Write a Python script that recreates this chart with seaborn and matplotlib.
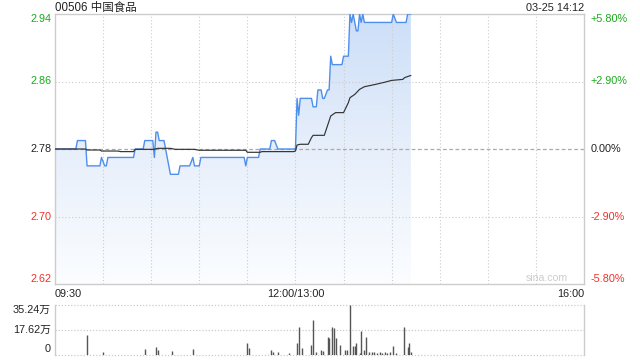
import numpy as np
import pandas as pd
import matplotlib
matplotlib.use("Agg")
import matplotlib.pyplot as plt
import seaborn as sns

# ---------------- data ----------------
title = "00506 中国食品"
stamp = "03-25 14:12"
prev_close = 2.78
price_ticks = [2.62, 2.70, 2.78, 2.86, 2.94]
price_labels = ["2.62", "2.70", "2.78", "2.86", "2.94"]
pct_labels = ["-5.80%", "-2.90%", "0.00%", "+2.90%", "+5.80%"]
x_tick_pos = [0, 150, 330]
x_tick_labels = ["09:30", "12:00/13:00", "16:00"]
vol_ticks = [0, 17.62, 35.24]
vol_labels = ["0", "17.62万", "35.24万"]

# trading minutes since 09:30 (lunch break removed)
blue_t = [0, 13, 14, 19, 20, 28, 29, 31, 32, 33, 49, 50, 55, 56, 61, 62, 63, 64, 65, 68,
          72, 77, 78, 84, 86, 87, 90, 91, 118, 119, 120, 127, 128, 134, 135, 137, 139, 150, 151, 152,
          153, 160, 161, 163, 164, 166, 167, 168, 170, 171, 172, 173, 179, 180, 183, 184, 185, 186, 188, 189,
          190, 191, 192, 193, 210, 211, 213, 219, 220, 222]
blue_p = [2.78, 2.78, 2.79, 2.79, 2.76, 2.76, 2.77, 2.76, 2.76, 2.77, 2.77, 2.78, 2.78, 2.79, 2.79, 2.77, 2.80, 2.80, 2.79, 2.79,
          2.75, 2.75, 2.76, 2.76, 2.77, 2.76, 2.76, 2.77, 2.77, 2.76, 2.77, 2.77, 2.78, 2.78, 2.79, 2.79, 2.78, 2.78, 2.84, 2.82,
          2.84, 2.84, 2.83, 2.83, 2.85, 2.85, 2.84, 2.84, 2.85, 2.85, 2.89, 2.88, 2.88, 2.89, 2.89, 2.94, 2.93, 2.94, 2.92, 2.92,
          2.94, 2.93, 2.94, 2.93, 2.93, 2.94, 2.93, 2.93, 2.94, 2.94]

avg_t = [0, 19, 20, 28, 29, 39, 41, 49, 50, 62, 64, 72, 75, 87, 90, 119, 120, 128, 129, 149,
         150, 151, 153, 158, 160, 161, 168, 172, 175, 180, 183, 184, 187, 190, 193, 200, 206, 210, 217, 218, 222]
avg_p = [2.7800, 2.7800, 2.7788, 2.7788, 2.7776, 2.7776, 2.7769, 2.7769, 2.7796, 2.7796,
         2.7808, 2.7808, 2.7796, 2.7796, 2.7785, 2.7785, 2.7761, 2.7761, 2.7769, 2.7769,
         2.7776, 2.7847, 2.7856, 2.7856, 2.7935, 2.7962, 2.7962, 2.8191, 2.8231, 2.8231,
         2.8349, 2.8408, 2.8447, 2.8507, 2.8538, 2.8566, 2.8593, 2.8613, 2.8625, 2.8645, 2.8672]

vol_t = [20, 30, 56, 63, 64, 73, 86, 120, 121, 135, 136, 139, 146, 151, 152, 154, 160, 161, 163, 166,
         167, 170, 171, 173, 174, 175, 178, 181, 182, 184, 186, 187, 188, 190, 191, 193, 194, 196, 198, 199,
         201, 203, 204, 206, 207, 209, 211, 213, 218, 220, 221, 222]
vol_v = [14.1, 2.3, 4.2, 5.6, 3.8, 2.8, 4.2, 8.5, 5.2, 3.5, 2.0, 2.3, 1.5, 8.2, 19.5, 5.2, 7.0, 24.7, 2.0, 3.5,
         2.8, 12.7, 12.2, 19.7, 19.3, 12.2, 7.0, 3.5, 3.5, 35.24, 6.3, 6.3, 8.2, 1.5, 16.9, 3.5, 12.7, 2.0, 2.3, 2.3,
         1.5, 2.3, 1.5, 2.0, 1.5, 2.0, 6.3, 1.5, 19.7, 5.9, 8.2, 2.0]

# ---------------- style ----------------
sns.set_style("white")
plt.rcParams["font.family"] = ["Liberation Sans", "Noto Sans CJK SC", "DejaVu Sans"]

GREEN = "#1aaa1a"
RED = "#f0312a"
DARK = "#222222"
GRID = "#cccccc"
BLUE = "#4f8fec"

fig = plt.figure(figsize=(6.4, 3.6), dpi=100)
ax = fig.add_axes([55 / 640, 1 - 284 / 360, 529 / 640, 270 / 360])
axv = fig.add_axes([55 / 640, 1 - 355 / 360, 529 / 640, 50 / 360])

XMIN, XMAX = 0, 330
YMIN, YMAX = 2.62, 2.94

price_df = pd.DataFrame({"t": blue_t, "p": blue_p})
avg_df = pd.DataFrame({"t": avg_t, "p": avg_p})

# gradient fill under the price line
poly = ax.fill_between(price_df["t"], price_df["p"], YMIN, color="none", lw=0)
grad_stops = np.array([[0.985, 0.992, 1.0], [0.905, 0.937, 0.984], [0.80, 0.872, 0.972]])
yy = np.linspace(0, 1, 256)
r = np.interp(yy, [0, 0.5, 1], grad_stops[:, 0])
g = np.interp(yy, [0, 0.5, 1], grad_stops[:, 1])
b = np.interp(yy, [0, 0.5, 1], grad_stops[:, 2])
img = np.stack([r, g, b], axis=-1)[:, None, :]
im = ax.imshow(img, extent=[XMIN, XMAX, YMIN, YMAX], origin="lower", aspect="auto", zorder=0.5,
               interpolation="bilinear")
im.set_clip_path(poly.get_paths()[0], transform=ax.transData)

# grid
for xv in range(30, 330, 30):
    ax.axvline(xv, color=GRID, lw=0.8, ls=(0, (1, 2)), zorder=1)
for yv in [2.70, 2.86]:
    ax.axhline(yv, color=GRID, lw=0.8, ls=(0, (1, 2)), zorder=1)
ax.axhline(prev_close, color="#aaaaaa", lw=0.9, ls=(0, (3, 2)), zorder=1)

sns.lineplot(data=price_df, x="t", y="p", ax=ax, color=BLUE, lw=1.0, estimator=None, sort=False, zorder=3)
sns.lineplot(data=avg_df, x="t", y="p", ax=ax, color="#333333", lw=0.85, estimator=None, sort=False, zorder=4)

ax.set_xlim(XMIN, XMAX)
ax.set_ylim(YMIN, YMAX)
ax.set_xticks([])
ax.set_yticks([])
ax.set_xlabel("")
ax.set_ylabel("")
for s in ax.spines.values():
    s.set_color(GRID)
    s.set_linewidth(1.0)

# left price labels and right percentage labels
label_colors = [RED, RED, DARK, GREEN, GREEN]
for val, lab, pl, col in zip(price_ticks, price_labels, pct_labels, label_colors):
    va = "center"
    if val == YMAX:
        va = "top"
    elif val == YMIN:
        va = "bottom"
    ax.text(-0.006, val, lab, transform=ax.get_yaxis_transform(), ha="right", va=va,
            fontsize=7.8, color=col)
    ax.text(1.012, val, pl, transform=ax.get_yaxis_transform(), ha="left", va=va,
            fontsize=7.8, color=col)

# x labels
for xv, lab in zip(x_tick_pos, x_tick_labels):
    ha = "left" if xv == XMIN else ("right" if xv == XMAX else "center")
    ax.text(xv, -0.02, lab, transform=ax.get_xaxis_transform(), ha=ha, va="top", fontsize=7.8, color=DARK)

fig.text(55 / 640, 1 - 7.5 / 360, title, ha="left", va="center", fontsize=8.3, color=DARK)
fig.text(584 / 640, 1 - 8 / 360, stamp, ha="right", va="center", fontsize=7.8, color=DARK)
ax.text(0.97, 0.005, "sina.com", transform=ax.transAxes, ha="right", va="bottom", fontsize=7.6, color="#cccccc")

# volume panel
axv.vlines(vol_t, 0, vol_v, color="#555555", lw=1.0)
axv.set_xlim(XMIN, XMAX)
axv.set_ylim(0, 35.24)
for yv in vol_ticks:
    axv.axhline(yv, color=GRID, lw=0.9, ls=(0, (1, 1.5)), zorder=0, clip_on=False)
axv.set_xticks([])
axv.set_yticks([])
for k in ["top", "bottom"]:
    axv.spines[k].set_visible(False)
for k in ["left", "right"]:
    axv.spines[k].set_color(GRID)
    axv.spines[k].set_linewidth(1.0)
for val, lab in zip(vol_ticks, vol_labels):
    va = "top" if val == 35.24 else ("bottom" if val == 0 else "center")
    off = 0.03 if val == 0 else 0
    axv.text(-0.008, val / 35.24 + off, lab, transform=axv.transAxes, ha="right", va=va,
             fontsize=7.8, color=DARK)

fig.savefig("out.png", dpi=100)
